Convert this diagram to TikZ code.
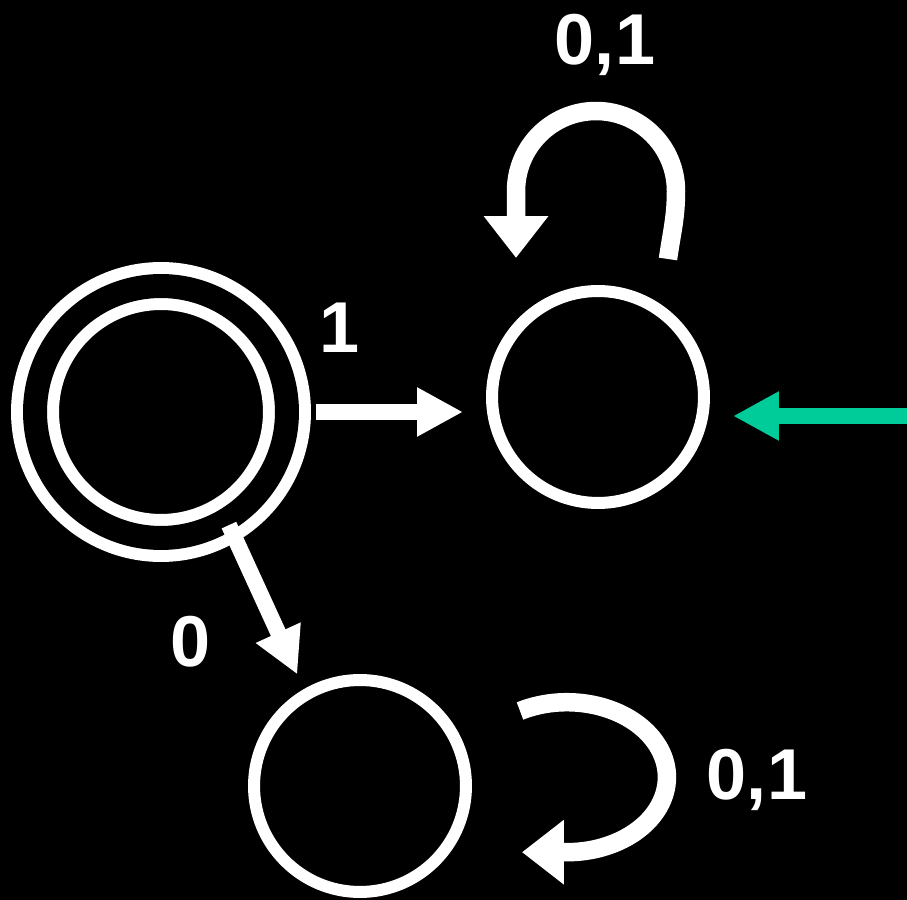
\documentclass[tikz,border=0pt]{standalone}
\usepackage{fontspec}
\setmainfont{Liberation Sans}
\usetikzlibrary{arrows.meta,calc}
\definecolor{startgreen}{RGB}{0,204,153}

\begin{document}
\begin{tikzpicture}[x=0.02cm,y=0.02cm]
	\tikzset{
		state/.style={draw=white,circle,line width=0.24cm,minimum size=4.24cm,inner sep=0pt},
		accepting/.style={double=black,double distance=0.48cm,minimum size=5.04cm},
		trans/.style={white,line width=0.32cm,-{Triangle[length=0.92cm,width=0.92cm]}},
		selfloop/.style={white,line width=0.37cm,-{Triangle[length=0.84cm,width=1.24cm]}},
		lbl/.style={white,font=\fontsize{41}{49}\selectfont\bfseries,anchor=base,inner sep=0pt}
	}
	\fill[black] (0,0) rectangle (907,900);
	\useasboundingbox (0,0) rectangle (907,900);

	\node[state,accepting] (q0) at (161,488) {};
	\node[state] (q1) at (598,503) {};
	\node[state] (q2) at (360,114) {};

	\draw[trans,shorten <=0.46cm,shorten >=0.46cm] (q0) -- (q0 -| q1.west);
	\draw[trans,shorten >=0.32cm] (q0.-59) -- (q2.120);

	\coordinate (init) at (930,484);
	\draw[trans,startgreen,shorten >=0.46cm] (init) -- (init -| q1.east);

	\draw[selfloop] ($(q1)+(70,138)$) to[out=82,in=-90] ++(8,68)
		arc[start angle=0,end angle=180,radius=1.6cm] -- ++(0,-67);
	\draw[selfloop] ($(q2)+(160,75)$)
		arc[start angle=118,end angle=-90,x radius=2cm,y radius=1.5cm] -- ++(-45,0);

	\node[lbl] (l1) at (340,547) {1};
	\node[lbl] (l0) at (191,233) {0};
	\node[lbl] (lq1) at (605,835) {0,1};
	\node[lbl] (lq2) at (757,100) {0,1};
\end{tikzpicture}
\end{document}
